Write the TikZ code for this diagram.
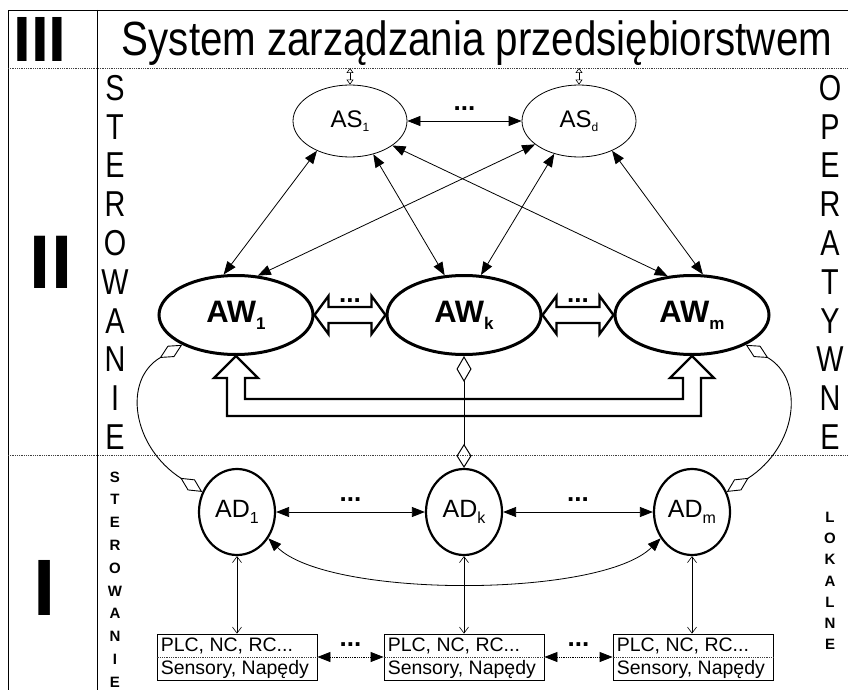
\documentclass[tikz,border=0pt]{standalone}
\usepackage{fontspec}
\usepackage{graphicx}
\setmainfont{Liberation Sans}
\usetikzlibrary{arrows.meta,shapes.geometric,calc}
\newcommand{\fs}[1]{\fontsize{#1}{#1}\selectfont}
\newcommand{\lsub}[3]{\raisebox{-#2pt}{\fs{#1}#3}}
\newcommand{\narrow}[1]{\scalebox{0.8}[1]{#1}}
\begin{document}
\begin{tikzpicture}[x=1pt,y=-1pt,
  asnode/.style={ellipse, draw, line width=0.8pt, minimum width=114pt, minimum height=72pt, inner sep=0pt, font=\fs{24}},
  awnode/.style={ellipse, draw, line width=3pt, minimum width=154pt, minimum height=79pt, inner sep=0pt, font=\fs{31}\bfseries},
  adnode/.style={ellipse, draw, line width=2.2pt, minimum width=76pt, minimum height=86pt, inner sep=0pt, font=\fs{25}},
  boxnode/.style={rectangle, draw, line width=0.8pt, minimum width=160pt, minimum height=46pt, inner sep=0pt},
  boxtxt/.style={font=\fs{19.5}, inner sep=0pt, anchor=west},
  dots/.style={font=\fs{26}\bfseries, inner sep=0pt},
  biarrow/.style={line width=0.8pt, {Triangle[length=13pt,width=10pt]}-{Triangle[length=13pt,width=10pt]}},
  smallarr/.style={line width=0.6pt, {Triangle[open,length=5pt,width=7pt]}-{Triangle[open,length=5pt,width=7pt]}},
  vertarr/.style={line width=0.6pt, {Straight Barb[length=6pt,width=9pt]}-{Straight Barb[length=6pt,width=9pt]}},
  diamarr/.style={line width=0.9pt, {Diamond[open,length=26pt,width=13pt]}-{Diamond[open,length=26pt,width=13pt]}},
  blockline/.style={line width=2.4pt, line join=miter},
  dotline/.style={line width=0.8pt, densely dotted, black!75},
  bigletter/.style={font=\fs{36}, inner sep=0pt},
  smallletter/.style={font=\fs{15}\bfseries, inner sep=0pt},
  roman/.style={font=\bfseries, inner sep=0pt}
]
\useasboundingbox (0,0) rectangle (848,690);
% frame
\draw[line width=0.8pt] (8,690) -- (8,10) -- (848,10);
\draw[line width=0.8pt] (97,10) -- (97,690);
\draw[dotline] (8,68) -- (848,68);
\draw[dotline] (8,455) -- (848,455);
% roman numerals
\node[roman, font=\fs{64}\bfseries] (r3) at (40,39) {III};
\node[roman, font=\fs{76}\bfseries] (r2) at (51,262) {II};
\node[roman, font=\fs{80}\bfseries] (r1) at (45,588) {I};
% title
\node[font=\fs{48}, inner sep=0pt, anchor=base] (title) at (477,56) {\scalebox{0.84}[1]{System zarządzania przedsiębiorstwem}};
% side letters
\foreach \l [count=\i from 0] in {S,T,E,R,O,W,A,N,I,E}
  \node[bigletter] (sl\i) at (115,{88+38.8*\i}) {\narrow{\l}};
\foreach \l [count=\i from 0] in {O,P,E,R,A,T,Y,W,N,E}
  \node[bigletter] (sr\i) at (830,{88+38.8*\i}) {\narrow{\l}};
\foreach \l [count=\i from 0] in {S,T,E,R,O,W,A,N,I,E}
  \node[smallletter] (ssl\i) at (115,{477+22.8*\i}) {\l};
\foreach \l [count=\i from 0] in {L,O,K,A,L,N,E}
  \node[smallletter] (ssr\i) at (830,{517+21.3*\i}) {\l};
% nodes
\node[asnode] (AS1) at (350,121) {AS\lsub{12}{4}{1}};
\node[asnode] (ASd) at (579,121) {AS\lsub{12}{4}{d}};
\node[awnode] (AW1) at (236,315) {AW\lsub{17}{7}{1}};
\node[awnode] (AWk) at (464,315) {AW\lsub{17}{7}{k}};
\node[awnode] (AWm) at (692,315) {AW\lsub{17}{7}{m}};
\node[adnode] (AD1) at (237,512) {AD\lsub{16}{6}{1}};
\node[adnode] (ADk) at (464,512) {AD\lsub{16}{6}{k}};
\node[adnode] (ADm) at (692,512) {AD\lsub{16}{6}{m}};
\foreach \n/\x in {B1/237,B2/464,B3/693}{
  \node[boxnode] (\n) at (\x,657) {};
  \draw[dotline] (\n.west) -- (\n.east);
  \node[boxtxt] (\n t) at ($(\n.west)+(4,-11)$) {PLC, NC, RC...};
  \node[boxtxt] (\n b) at ($(\n.west)+(4,12)$) {Sensory, Napędy};
}
% top links
\coordinate (t1) at (350,68);
\coordinate (t2) at (579,68);
\draw[smallarr] (t1) -- (AS1.north);
\draw[smallarr] (t2) -- (ASd.north);
% AS-AS
\draw[biarrow] (AS1.east) -- (ASd.west);
\node[dots] (d1) at ($(AS1.east)!0.5!(ASd.west)+(0,-12)$) {...};
% AS-AW
\draw[biarrow] (AS1.222) -- (AW1.107);
\draw[biarrow] (ASd.208) -- (AW1.61);
\draw[biarrow] (AS1.305) -- (AWk.116);
\draw[biarrow] (ASd.233) -- (AWk.67);
\draw[biarrow] (AS1.330) -- (AWm.122);
\draw[biarrow] (ASd.318) -- (AWm.75);
% AW block double arrows
\draw[blockline] (AW1.east) -- ++(14,-19) -- ++(0,11) -- ($(AWk.west)+(-14,-8)$) -- ++(0,-11) -- (AWk.west) -- ++(-14,19) -- ++(0,-11) -- ($(AW1.east)+(14,8)$) -- ++(0,11) -- cycle;
\draw[blockline] (AWk.east) -- ++(14,-19) -- ++(0,11) -- ($(AWm.west)+(-14,-8)$) -- ++(0,-11) -- (AWm.west) -- ++(-14,19) -- ++(0,-11) -- ($(AWk.east)+(14,8)$) -- ++(0,11) -- cycle;
\node[dots] (d2) at ($(AW1.east)!0.5!(AWk.west)+(0,-14)$) {...};
\node[dots] (d3) at ($(AWk.east)!0.5!(AWm.west)+(0,-14)$) {...};
% U block arrow
\draw[blockline] (AW1.south) -- ++(22,22) -- ++(-13,0) -- ++(0,21) -- ($(AWm.south)+(-9,43)$) -- ++(0,-21) -- ++(-13,0) -- (AWm.south) -- ++(22,22) -- ++(-13,0) -- ++(0,38) -- ($(AW1.south)+(-9,60)$) -- ++(0,-38) -- ++(-13,0) -- cycle;
% AWk - ADk
\draw[line width=1pt, {Diamond[open,length=26pt,width=15pt]}-{Diamond[open,length=24pt,width=15pt]}] (AWk.south) -- (ADk.north);
% side curves
\draw[diamarr] (AW1.209) .. controls +(-60,35) and +(-70,-45) .. (AD1.150);
\draw[diamarr] (AWm.331) .. controls +(60,35) and +(70,-45) .. (ADm.30);
% AD links
\draw[biarrow] (AD1.east) -- (ADk.west);
\draw[biarrow] (ADk.east) -- (ADm.west);
\node[dots] (d4) at ($(AD1.east)!0.5!(ADk.west)+(0,-12)$) {...};
\node[dots] (d5) at ($(ADk.east)!0.5!(ADm.west)+(0,-12)$) {...};
\draw[biarrow] (AD1.-40) .. controls +(60,60) and +(-60,60) .. (ADm.220);
% AD - boxes
\draw[vertarr] (AD1.south) -- (AD1.south |- B1.north);
\draw[vertarr] (ADk.south) -- (ADk.south |- B2.north);
\draw[vertarr] (ADm.south) -- (ADm.south |- B3.north);
% box links
\draw[biarrow, densely dotted] (B1.east) -- (B2.west);
\draw[biarrow, densely dotted] (B2.east) -- (B3.west);
\node[dots] (d6) at ($(B1.east)!0.5!(B2.west)+(0,-12)$) {...};
\node[dots] (d7) at ($(B2.east)!0.5!(B3.west)+(0,-12)$) {...};
\end{tikzpicture}
\end{document}
